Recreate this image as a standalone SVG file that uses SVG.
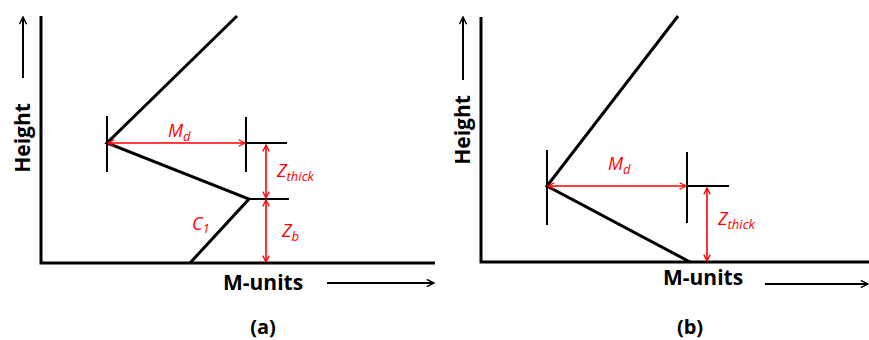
<svg xmlns="http://www.w3.org/2000/svg" width="869" height="340" viewBox="0 0 869 340">
<style>
.k{stroke:#000;stroke-width:3;fill:none;stroke-linecap:butt}
.t{stroke:#000;stroke-width:2;fill:none}
.r{stroke:#f00;stroke-width:1.6;fill:none;marker-start:url(#ra);marker-end:url(#ra)}
.ax{font-family:"Open Sans","DejaVu Sans",sans-serif;font-weight:bold;font-size:21px;fill:#000}
.lb{font-family:"Open Sans","DejaVu Sans",sans-serif;font-style:italic;font-size:18px;fill:#f00}
.sub{font-size:13px}
.cap{font-family:"Open Sans","DejaVu Sans",sans-serif;font-weight:bold;font-size:20px;fill:#000;text-anchor:middle}
</style>
<defs>
<marker id="ra" viewBox="0 0 10 10" refX="9" refY="5" markerWidth="8" markerHeight="8" markerUnits="userSpaceOnUse" orient="auto-start-reverse">
<path d="M1,1 L9,5 L1,9" fill="none" stroke="#f00" stroke-width="1.6"/>
</marker>
<marker id="ka" viewBox="0 0 10 10" refX="9" refY="5" markerWidth="9" markerHeight="9" markerUnits="userSpaceOnUse" orient="auto">
<path d="M1,1 L9,5 L1,9" fill="none" stroke="#000" stroke-width="1.6"/>
</marker>
</defs>

<g id="panel-a">
<g id="a-axes">
<polyline class="k" points="41,16 41,263 435,263"/>
<line x1="23" y1="78" x2="23" y2="17" stroke="#000" stroke-width="2" marker-end="url(#ka)"/>
<text class="ax" transform="translate(30,138) rotate(-90)" text-anchor="middle">Height</text>
<text class="ax" x="223" y="290">M-units</text>
<line x1="327" y1="283" x2="434" y2="283" stroke="#000" stroke-width="2" marker-end="url(#ka)"/>
<text class="cap" x="263" y="334">(a)</text>
</g>
<g id="a-shape">
<polyline class="k" points="237,16 107,143 249,199 190,263"/>
<line class="t" x1="107" y1="116" x2="107" y2="172"/>
<line class="t" x1="246" y1="117" x2="246" y2="172"/>
<line class="t" x1="246" y1="143" x2="287" y2="143"/>
<line class="t" x1="249" y1="199" x2="289" y2="199"/>
</g>
<g id="a-dims">
<line class="r" x1="108" y1="143" x2="245" y2="143"/>
<line class="r" x1="266" y1="145" x2="266" y2="198"/>
<line class="r" x1="266" y1="200" x2="266" y2="262"/>
<text class="lb" x="168" y="137">M<tspan class="sub" dy="4">d</tspan></text>
<text class="lb" x="277" y="177">Z<tspan class="sub" dy="4">thick</tspan></text>
<text class="lb" x="282" y="237">Z<tspan class="sub" dy="4">b</tspan></text>
<text class="lb" x="192" y="230">C<tspan class="sub" dy="3">1</tspan></text>
</g>
</g>

<g id="panel-b">
<g id="b-axes">
<polyline class="k" points="481,17 481,262 869,262"/>
<line x1="463" y1="80" x2="463" y2="17" stroke="#000" stroke-width="2" marker-end="url(#ka)"/>
<text class="ax" transform="translate(470,130) rotate(-90)" text-anchor="middle">Height</text>
<text class="ax" x="663" y="285">M-units</text>
<line x1="765" y1="284" x2="868" y2="284" stroke="#000" stroke-width="2" marker-end="url(#ka)"/>
<text class="cap" x="690" y="334">(b)</text>
</g>
<g id="b-shape">
<polyline class="k" points="678,16 547,186 690,262"/>
<line class="t" x1="547" y1="150" x2="547" y2="225"/>
<line class="t" x1="687" y1="152" x2="687" y2="223"/>
<line class="t" x1="687" y1="186" x2="729" y2="186"/>
</g>
<g id="b-dims">
<line class="r" x1="548" y1="186" x2="686" y2="186"/>
<line class="r" x1="707" y1="188" x2="707" y2="261"/>
<text class="lb" x="608" y="170">M<tspan class="sub" dy="4">d</tspan></text>
<text class="lb" x="718" y="225">Z<tspan class="sub" dy="4">thick</tspan></text>
</g>
</g>
</svg>
